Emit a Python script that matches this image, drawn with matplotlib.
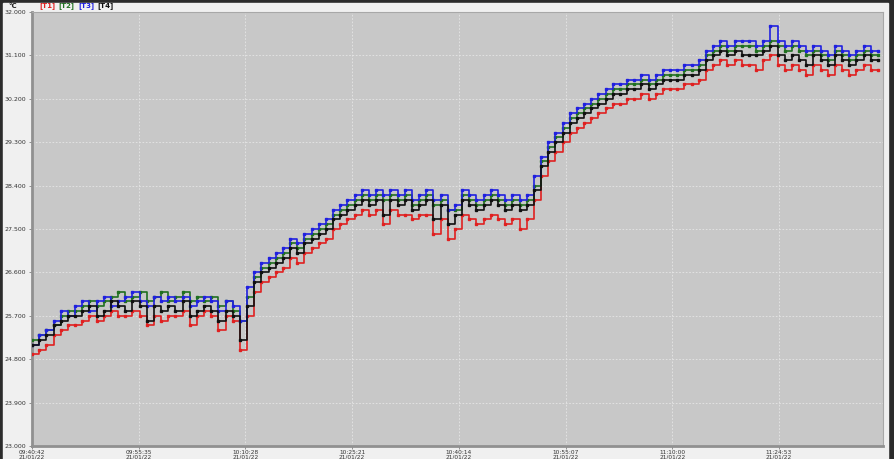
import matplotlib.pyplot as plt
from matplotlib.patches import Rectangle
import numpy as np

# minutes since 09:40:42, one reading per minute
minutos = np.arange(119)

t1 = [24.9, 25.0, 25.1, 25.3, 25.4, 25.5, 25.5, 25.6, 25.7, 25.6,
      25.7, 25.8, 25.7, 25.7, 25.8, 25.7, 25.5, 25.7, 25.6, 25.7,
      25.7, 25.8, 25.5, 25.7, 25.8, 25.7, 25.4, 25.7, 25.6, 25.0,
      25.7, 26.2, 26.4, 26.5, 26.6, 26.7, 26.9, 26.8, 27.0, 27.1,
      27.2, 27.3, 27.5, 27.6, 27.7, 27.8, 27.9, 27.8, 27.9, 27.6,
      27.9, 27.8, 27.8, 27.7, 27.8, 27.8, 27.4, 27.7, 27.3, 27.5,
      27.8, 27.7, 27.6, 27.7, 27.8, 27.7, 27.6, 27.7, 27.5, 27.7,
      28.1, 28.6, 28.9, 29.1, 29.3, 29.5, 29.6, 29.7, 29.8, 29.9,
      30.0, 30.1, 30.1, 30.2, 30.2, 30.3, 30.2, 30.3, 30.4, 30.4,
      30.4, 30.5, 30.5, 30.6, 30.8, 30.9, 31.0, 30.9, 31.0, 30.9,
      30.9, 30.8, 31.0, 31.1, 30.9, 30.8, 30.9, 30.8, 30.7, 30.9,
      30.8, 30.7, 30.9, 30.8, 30.7, 30.8, 30.9, 30.8, 30.8]

t2 = [25.2, 25.3, 25.4, 25.5, 25.7, 25.8, 25.8, 25.9, 26.0, 25.9,
      26.0, 26.1, 26.2, 26.0, 26.1, 26.2, 26.0, 26.1, 26.2, 26.0,
      26.1, 26.2, 26.0, 26.1, 26.0, 26.1, 25.9, 26.0, 25.8, 25.6,
      26.1, 26.5, 26.7, 26.8, 26.9, 27.0, 27.2, 27.1, 27.3, 27.4,
      27.5, 27.6, 27.8, 27.9, 28.0, 28.1, 28.2, 28.1, 28.2, 28.1,
      28.2, 28.1, 28.2, 28.0, 28.1, 28.2, 28.0, 28.1, 27.9, 27.9,
      28.2, 28.1, 28.0, 28.1, 28.2, 28.1, 28.0, 28.1, 28.0, 28.1,
      28.4, 28.9, 29.2, 29.4, 29.6, 29.8, 29.9, 30.0, 30.1, 30.2,
      30.3, 30.4, 30.4, 30.5, 30.5, 30.6, 30.5, 30.6, 30.7, 30.7,
      30.7, 30.8, 30.8, 30.9, 31.1, 31.2, 31.3, 31.2, 31.3, 31.3,
      31.3, 31.2, 31.3, 31.4, 31.3, 31.2, 31.3, 31.2, 31.1, 31.2,
      31.1, 31.0, 31.2, 31.1, 31.0, 31.1, 31.2, 31.1, 31.1]

t3 = [25.1, 25.3, 25.4, 25.6, 25.8, 25.7, 25.9, 26.0, 25.8, 26.0,
      26.1, 25.9, 26.0, 26.1, 26.2, 26.0, 25.9, 26.1, 26.0, 26.1,
      26.0, 26.1, 25.9, 26.0, 26.1, 26.0, 25.8, 26.0, 25.9, 25.6,
      26.3, 26.6, 26.8, 26.9, 27.0, 27.1, 27.3, 27.2, 27.4, 27.5,
      27.6, 27.7, 27.9, 28.0, 28.1, 28.2, 28.3, 28.2, 28.3, 28.2,
      28.3, 28.2, 28.3, 28.1, 28.2, 28.3, 28.1, 28.2, 27.9, 28.0,
      28.3, 28.2, 28.1, 28.2, 28.3, 28.2, 28.1, 28.2, 28.1, 28.2,
      28.6, 29.0, 29.3, 29.5, 29.7, 29.9, 30.0, 30.1, 30.2, 30.3,
      30.4, 30.5, 30.5, 30.6, 30.6, 30.7, 30.6, 30.7, 30.8, 30.8,
      30.8, 30.9, 30.9, 31.0, 31.2, 31.3, 31.4, 31.3, 31.4, 31.4,
      31.4, 31.3, 31.4, 31.7, 31.4, 31.3, 31.4, 31.3, 31.2, 31.3,
      31.2, 31.1, 31.3, 31.2, 31.1, 31.2, 31.3, 31.2, 31.2]

t4 = [25.1, 25.2, 25.3, 25.5, 25.6, 25.7, 25.7, 25.8, 25.9, 25.7,
      25.8, 26.0, 25.9, 25.8, 26.0, 25.9, 25.6, 25.9, 25.8, 25.9,
      25.8, 26.0, 25.7, 25.8, 25.9, 25.8, 25.6, 25.8, 25.7, 25.2,
      25.9, 26.4, 26.6, 26.7, 26.8, 26.9, 27.1, 27.0, 27.2, 27.3,
      27.4, 27.5, 27.7, 27.8, 27.9, 28.0, 28.1, 28.0, 28.1, 27.8,
      28.1, 28.0, 28.1, 27.9, 28.0, 28.1, 27.7, 28.0, 27.6, 27.8,
      28.1, 28.0, 27.9, 28.0, 28.1, 28.0, 27.9, 28.0, 27.9, 28.0,
      28.3, 28.8, 29.1, 29.3, 29.5, 29.7, 29.8, 29.9, 30.0, 30.1,
      30.2, 30.3, 30.3, 30.4, 30.4, 30.5, 30.4, 30.5, 30.6, 30.6,
      30.6, 30.7, 30.7, 30.8, 31.0, 31.1, 31.2, 31.1, 31.2, 31.1,
      31.1, 31.1, 31.2, 31.3, 31.1, 31.0, 31.1, 31.0, 30.9, 31.1,
      31.0, 30.9, 31.1, 31.0, 30.9, 31.0, 31.1, 31.0, 31.0]

series = ["[T1]", "[T2]", "[T3]", "[T4]"]
colores = ["#e02020", "#207020", "#2020e0", "#101010"]

y_ticks = [23.0, 23.9, 24.8, 25.7, 26.6, 27.5, 28.4, 29.3, 30.2, 31.1, 32.0]
x_labels = ["09:40:42", "09:55:35", "10:10:28", "10:25:21",
            "10:40:14", "10:55:07", "11:10:00", "11:24:53"]
fecha = "21/01/22"

fig = plt.figure(figsize=(8.95, 4.59), dpi=100, facecolor="#2b2b2b")
# panel claro dentro del marco oscuro
fondo = Rectangle((3 / 895, 0), 885 / 895, 456 / 459, transform=fig.transFigure,
                  color="#f0f0f0", zorder=-10)
fig.patches.append(fondo)

ax = fig.add_axes([32 / 895, 13 / 459, 851 / 895, 434 / 459], zorder=1)
ax.set_facecolor("#c8c8c8")

for datos, color in zip([t1, t2, t3, t4], colores):
    ax.plot(minutos, datos, color=color, lw=1.2, drawstyle="steps-post",
            marker="s", ms=1.8, zorder=3)

ax.set_xlim(0, 118.7)
ax.set_ylim(23.0, 32.0)
ax.set_yticks(y_ticks)
ax.set_yticklabels([f"{v:.3f}" for v in y_ticks], fontsize=4.5, color="#333333")
paso = 893 / 60
ax.set_xticks([i * paso for i in range(len(x_labels))])
ax.set_xticklabels([f"{h}\n{fecha}" for h in x_labels], fontsize=4.2,
                   color="#333333", linespacing=0.85)
ax.tick_params(length=2.5, width=0.6, color="#808080", pad=1.5)
ax.tick_params(axis="x", length=2, pad=0.8)
ax.grid(True, color="#e6e6e6", ls=(0, (2, 2)), lw=0.6, zorder=1)

ax.spines["left"].set_color("#909090")
ax.spines["left"].set_linewidth(2)
ax.spines["bottom"].set_color("#909090")
ax.spines["bottom"].set_linewidth(2)
ax.spines["top"].set_color("#a8a8a8")
ax.spines["right"].set_color("#a8a8a8")

fig.text(8 / 895, 1 - 6 / 459, "°C", fontsize=5, fontweight="bold",
         color="#222222", va="center")
for i, (nombre, color) in enumerate(zip(series, colores)):
    fig.text((39 + i * 19.5) / 895, 1 - 6 / 459, nombre, fontsize=5,
             fontweight="bold", color=color, va="center")

fig.savefig("out.png", dpi=100, facecolor=fig.get_facecolor())
